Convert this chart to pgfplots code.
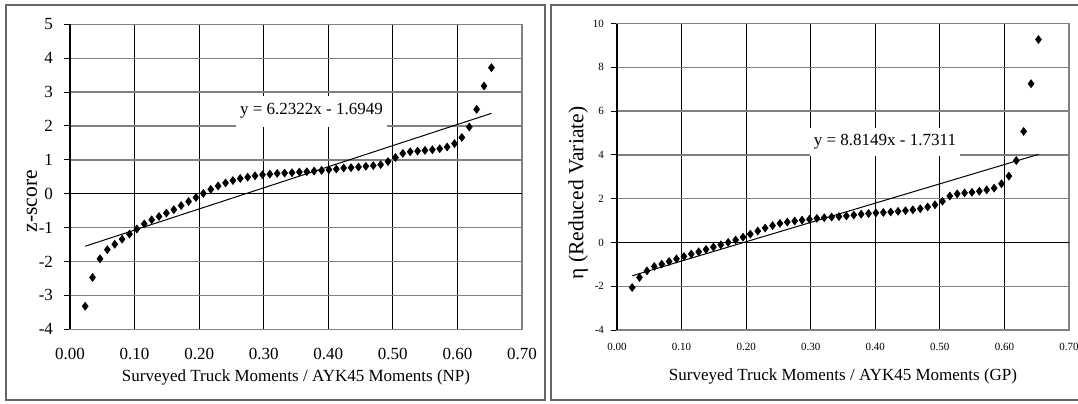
\documentclass[border=0pt]{standalone}
\usepackage{pgfplots}
\usepackage{pgfplotstable}
\pgfplotsset{compat=1.18}
\usepackage{fontspec}
\setmainfont{Liberation Serif}
\pgfplotstableread{
x y
0.0235 -3.32
0.0349 -2.47
0.0464 -1.92
0.0578 -1.65
0.0693 -1.49
0.0807 -1.34
0.0921 -1.19
0.1036 -1.04
0.1150 -0.89
0.1265 -0.77
0.1379 -0.67
0.1493 -0.57
0.1608 -0.47
0.1722 -0.35
0.1837 -0.23
0.1951 -0.11
0.2065 0.01
0.2180 0.13
0.2294 0.23
0.2409 0.32
0.2523 0.39
0.2637 0.45
0.2752 0.49
0.2866 0.53
0.2981 0.56
0.3095 0.58
0.3209 0.60
0.3324 0.61
0.3438 0.62
0.3553 0.64
0.3667 0.65
0.3781 0.67
0.3896 0.69
0.4010 0.71
0.4125 0.73
0.4239 0.76
0.4353 0.77
0.4468 0.79
0.4582 0.81
0.4697 0.83
0.4811 0.86
0.4925 0.95
0.5040 1.07
0.5154 1.19
0.5269 1.24
0.5383 1.26
0.5497 1.28
0.5612 1.30
0.5726 1.33
0.5841 1.38
0.5955 1.48
0.6069 1.66
0.6184 1.97
0.6298 2.49
0.6413 3.18
0.6527 3.72
}\npdata
\pgfplotstableread{
x y
0.0235 -2.06
0.0349 -1.60
0.0464 -1.30
0.0578 -1.10
0.0693 -0.99
0.0807 -0.87
0.0921 -0.75
0.1036 -0.64
0.1150 -0.53
0.1265 -0.43
0.1379 -0.32
0.1493 -0.21
0.1608 -0.11
0.1722 0.00
0.1837 0.11
0.1951 0.24
0.2065 0.38
0.2180 0.52
0.2294 0.66
0.2409 0.77
0.2523 0.87
0.2637 0.93
0.2752 0.98
0.2866 1.02
0.2981 1.06
0.3095 1.10
0.3209 1.13
0.3324 1.16
0.3438 1.18
0.3553 1.21
0.3667 1.25
0.3781 1.29
0.3896 1.32
0.4010 1.35
0.4125 1.37
0.4239 1.39
0.4353 1.42
0.4468 1.45
0.4582 1.49
0.4697 1.54
0.4811 1.62
0.4925 1.72
0.5040 1.88
0.5154 2.12
0.5269 2.22
0.5383 2.26
0.5497 2.29
0.5612 2.34
0.5726 2.40
0.5841 2.48
0.5955 2.68
0.6069 3.03
0.6184 3.74
0.6298 5.07
0.6413 7.25
0.6527 9.27
}\gpdata
\begin{document}
\begin{tikzpicture}
\useasboundingbox (0,0) rectangle (539pt,201.5pt);
\fill[white] (0,0) rectangle (539pt,201.5pt);
\draw[black!60, line width=0.6pt] (3pt,1.5pt) rectangle (272.5pt,199pt);
\draw[black!60, line width=0.6pt] (275.5pt,1.5pt) rectangle (545pt,199pt);
\pgfplotsset{
  myaxis/.style={
    scale only axis,
    xmin=0, xmax=0.7,
    xtick={0,0.1,0.2,0.3,0.4,0.5,0.6,0.7},
    xticklabels={0.00,0.10,0.20,0.30,0.40,0.50,0.60,0.70},
    axis line style={draw=none},
    grid=major,
    major x grid style={black, line width=0.5pt},
    major y grid style={black!50, line width=0.7pt},
    tick align=outside, major tick length=3pt,
    xtick style={draw=none}, ytick style={black, line width=0.5pt},
    ytick pos=left, xtick pos=bottom,
    xlabel style={anchor=center, font=\fontsize{8.5}{10}\selectfont},
    ylabel style={anchor=center, font=\fontsize{10.75}{12}\selectfont},
    clip=false,
  }
}
\begin{axis}[myaxis,
  at={(35pt,36.85pt)}, anchor=south west,
  width=226pt, height=152.5pt,
  ymin=-4, ymax=5,
  ytick={-4,-3,-2,-1,0,1,2,3,4,5},
  yticklabels={-4,-3,-2,-1,0,1,2,3,4,5},
  tick label style={font=\fontsize{8.5}{10}\selectfont},
  xticklabel style={yshift=-3pt},
  yticklabel style={xshift=-2pt},
  xlabel={Surveyed Truck Moments / AYK45 Moments (NP)},
  ylabel={z-score},
  xlabel style={at={(axis description cs:0.5,-0.159)}},
  ylabel style={at={(axis description cs:-0.084,0.42)}},
]
\addplot[only marks, mark=diamond*, mark size=1.9pt, black] table[x=x,y=y] {\npdata};
\addplot[black, line width=0.5pt, no marks] coordinates {(0.0235,-1.5484) (0.6527,2.3729)};
\draw[black!50, line width=0.7pt] (rel axis cs:0,0) rectangle (rel axis cs:1,1);
\draw[black, line width=0.6pt] (rel axis cs:0,0) -- (rel axis cs:0,1);
\draw[black, line width=0.6pt] (axis cs:0,0) -- (axis cs:0.7,0);
\node[fill=white, inner xsep=2pt, minimum height=15.5pt, font=\fontsize{8.5}{10}\selectfont] at (axis cs:0.374,2.44) {y = 6.2322x - 1.6949};
\end{axis}
\begin{axis}[myaxis,
  at={(308.5pt,36.5pt)}, anchor=south west,
  width=226pt, height=153.25pt,
  ymin=-4, ymax=10,
  ytick={-4,-2,0,2,4,6,8,10},
  yticklabels={-4,-2,0,2,4,6,8,10},
  tick label style={font=\fontsize{5.5}{6.5}\selectfont},
  xticklabel style={yshift=0pt},
  xlabel={Surveyed Truck Moments / AYK45 Moments (GP)},
  ylabel={η (Reduced Variate)},
  xlabel style={at={(axis description cs:0.5,-0.150)}},
  ylabel style={at={(axis description cs:-0.086,0.447)}},
]
\addplot[only marks, mark=diamond*, mark size=1.9pt, black] table[x=x,y=y] {\gpdata};
\addplot[black, line width=0.5pt, no marks] coordinates {(0.0235,-1.5240) (0.6527,4.0224)};
\draw[black!50, line width=0.7pt] (rel axis cs:0,0) rectangle (rel axis cs:1,1);
\draw[black, line width=0.6pt] (rel axis cs:0,0) -- (rel axis cs:0,1);
\draw[black, line width=0.6pt] (axis cs:0,0) -- (axis cs:0.7,0);
\node[fill=white, inner xsep=2pt, minimum height=13pt, font=\fontsize{8.5}{10}\selectfont] at (axis cs:0.415,4.58) {y = 8.8149x - 1.7311};
\end{axis}
\end{tikzpicture}
\end{document}
